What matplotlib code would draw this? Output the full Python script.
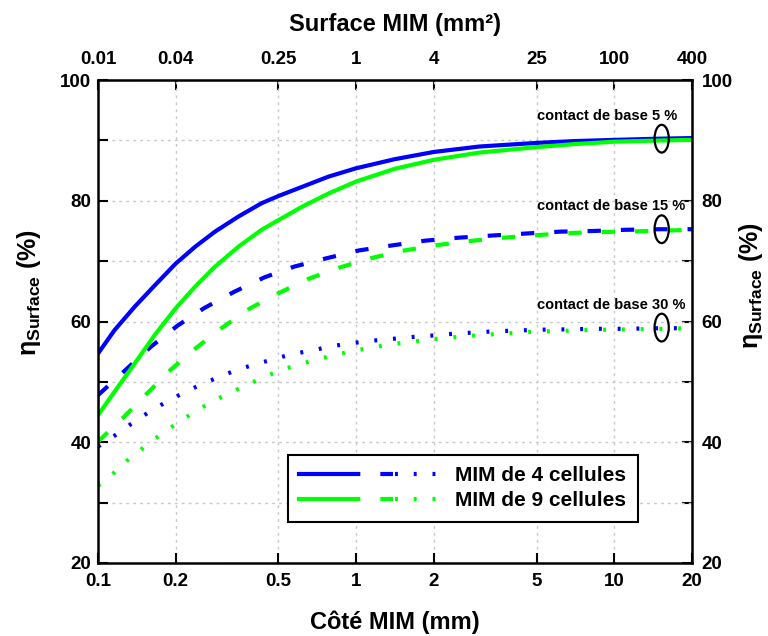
import matplotlib
matplotlib.use("Agg")
import matplotlib.pyplot as plt
import numpy as np
from matplotlib.patches import Ellipse
from matplotlib.legend_handler import HandlerTuple
from matplotlib.lines import Line2D
from matplotlib.ticker import NullLocator
import matplotlib.transforms as mtransforms

plt.rcParams['font.family'] = ['Liberation Sans', 'DejaVu Sans']
plt.rcParams['font.weight'] = 'bold'
plt.rcParams['axes.labelweight'] = 'bold'
plt.rcParams['mathtext.fontset'] = 'custom'
plt.rcParams['mathtext.rm'] = 'Liberation Sans:bold'
plt.rcParams['mathtext.bf'] = 'Liberation Sans:bold'
plt.rcParams['mathtext.it'] = 'Liberation Sans:bold'

# --- données (côté en mm, rendement en %) ---
x_4c_5 = [0.1, 0.116, 0.139, 0.166, 0.2, 0.238, 0.284, 0.35, 0.43, 0.5, 0.616, 0.78, 1.0, 1.41, 2.0, 3.0, 5.0, 7.0, 10.0, 15.0, 20.0]
eta_4c_5 = [54.7, 58.6, 62.5, 66.0, 69.6, 72.4, 74.9, 77.4, 79.6, 80.8, 82.3, 84.0, 85.4, 86.9, 88.1, 89.0, 89.6, 89.9, 90.1, 90.3, 90.4]

x_9c_5 = [0.1, 0.116, 0.139, 0.166, 0.2, 0.238, 0.284, 0.35, 0.43, 0.5, 0.616, 0.78, 1.0, 1.41, 2.0, 3.0, 5.0, 7.0, 10.0, 15.0, 20.0]
eta_9c_5 = [44.5, 48.4, 53.1, 57.8, 62.2, 65.8, 69.1, 72.4, 75.2, 76.8, 79.0, 81.2, 83.2, 85.3, 86.8, 88.0, 88.9, 89.4, 89.8, 90.0, 90.1]

x_4c_15 = [0.1, 0.128, 0.16, 0.203, 0.257, 0.336, 0.44, 0.575, 0.77, 1.03, 1.37, 1.85, 2.5, 3.5, 4.6, 6.2, 8.2, 11.0, 15.0, 20.0]
eta_4c_15 = [47.8, 52.0, 55.8, 59.3, 62.2, 64.9, 67.3, 69.1, 70.5, 71.8, 72.6, 73.4, 73.9, 74.3, 74.6, 74.9, 75.0, 75.2, 75.3, 75.3]

x_9c_15 = [0.1, 0.126, 0.155, 0.191, 0.241, 0.303, 0.385, 0.495, 0.647, 0.855, 1.14, 1.5, 2.0, 2.7, 3.5, 4.6, 6.2, 8.2, 11.0, 20.0]
eta_9c_15 = [40.1, 44.2, 48.1, 52.0, 55.7, 59.0, 62.1, 64.6, 67.0, 68.9, 70.5, 71.7, 72.6, 73.3, 73.8, 74.2, 74.6, 74.8, 74.9, 75.2]

x_4c_30 = [0.1, 0.116, 0.134, 0.155, 0.179, 0.206, 0.243, 0.286, 0.336, 0.397, 0.473, 0.563, 0.673, 0.8, 0.953,
           1.13, 1.36, 1.6, 2.0, 2.4, 2.9, 3.5, 4.1, 4.8, 5.7, 6.8, 8.0, 11.0, 15.5, 20.0]
eta_4c_30 = [39.3, 41.1, 43.0, 44.8, 46.4, 47.8, 49.3, 50.6, 51.8, 52.8, 53.7, 54.6, 55.2, 55.9, 56.4,
             56.8, 57.1, 57.4, 57.7, 58.0, 58.2, 58.4, 58.5, 58.6, 58.7, 58.7, 58.8, 58.8, 58.9, 58.9]

x_9c_30 = [0.1, 0.115, 0.13, 0.151, 0.174, 0.2, 0.232, 0.268, 0.31, 0.364, 0.43, 0.5, 0.59, 0.703, 0.836, 0.99,
           1.19, 1.4, 1.68, 2.0, 2.4, 2.9, 3.4, 4.1, 4.8, 5.7, 6.8, 8.0, 11.0, 15.5, 20.0]
eta_9c_30 = [32.8, 34.9, 37.0, 39.2, 41.2, 43.0, 44.8, 46.4, 47.8, 49.2, 50.6, 51.8, 52.8, 53.7, 54.5, 55.2,
             55.8, 56.3, 56.7, 57.1, 57.4, 57.7, 57.9, 58.1, 58.3, 58.4, 58.5, 58.6, 58.7, 58.8, 58.9]

bottom_ticks = [0.1, 0.2, 0.5, 1, 2, 5, 10, 20]
bottom_labels = ['0.1', '0.2', '0.5', '1', '2', '5', '10', '20']
top_ticks = [0.01, 0.04, 0.25, 1, 4, 25, 100, 400]
top_labels = ['0.01', '0.04', '0.25', '1', '4', '25', '100', '400']
y_ticks = [20, 30, 40, 50, 60, 70, 80, 90, 100]
y_labels = ['20', '', '40', '', '60', '', '80', '', '100']

contacts = ['contact de base 5 %', 'contact de base 15 %', 'contact de base 30 %']
contact_eta = [90.3, 75.3, 59.0]
legend_labels = ['MIM de 4 cellules', 'MIM de 9 cellules']

BLUE = '#0000ff'
GREEN = '#00ff00'
LW = 3.0
DASH = (0, (3.2, 4.8))
DOT = (0, (0.7, 3.8))
TICK_FS = 13.5

fig = plt.figure(figsize=(7.68, 6.36), dpi=100)
ax = fig.add_axes([0.1276, 0.1148, 0.901 - 0.1276, 0.874 - 0.1148])

ax.plot(x_4c_5, eta_4c_5, color=BLUE, lw=LW, solid_capstyle='butt')
ax.plot(x_4c_15, eta_4c_15, color=BLUE, lw=LW, linestyle=DASH)
ax.plot(x_4c_30, eta_4c_30, color=BLUE, lw=LW, linestyle=DOT)
ax.plot(x_9c_5, eta_9c_5, color=GREEN, lw=LW, solid_capstyle='butt')
ax.plot(x_9c_15, eta_9c_15, color=GREEN, lw=LW, linestyle=DASH)
ax.plot(x_9c_30, eta_9c_30, color=GREEN, lw=LW, linestyle=DOT)

ax.set_xscale('log')
ax.set_xlim(0.1, 20)
ax.set_ylim(20, 100)
ax.xaxis.set_minor_locator(NullLocator())
ax.set_xticks(bottom_ticks, labels=bottom_labels)
ax.set_yticks(y_ticks, labels=y_labels)
ax.grid(True, color='#c8c8c8', linestyle=(0, (2, 3)), linewidth=1.0)
ax.tick_params(axis='x', direction='in', length=7, width=1.5, labelsize=TICK_FS, pad=7)
ax.tick_params(axis='y', direction='in', length=7, width=1.5, labelsize=TICK_FS, pad=5)
for sp in ax.spines.values():
    sp.set_linewidth(1.8)

ax.set_xlabel('Côté MIM (mm)', fontsize=17, fontweight='bold', labelpad=15)
ylab = r'$\mathbf{η}_{\mathrm{Surface}}$ (%)'
ax.set_ylabel(ylab, fontsize=18, fontweight='bold')
ax.yaxis.set_label_coords(-0.093, 0.56)

# axe du haut : surface = côté²
top = ax.secondary_xaxis('top', functions=(lambda s: s ** 2, lambda a: np.sqrt(a)))
top.set_xscale('log')
top.xaxis.set_minor_locator(NullLocator())
top.set_xticks(top_ticks, labels=top_labels)
top.tick_params(direction='in', length=7, width=1.5, labelsize=TICK_FS, pad=9)
top.set_xlabel('Surface MIM (mm²)', fontsize=17, fontweight='bold', labelpad=14)

# axe de droite
right = ax.secondary_yaxis('right')
right.set_yticks(y_ticks, labels=y_labels)
right.tick_params(direction='in', length=7, width=1.5, labelsize=TICK_FS, pad=7)
right.set_ylabel(ylab, fontsize=18, fontweight='bold')
right.yaxis.set_label_coords(1.076, 0.575, transform=ax.transAxes)

# ellipses + annotations
blend = mtransforms.blended_transform_factory(ax.transAxes, ax.transData)
for txt, eta in zip(contacts, contact_eta):
    ax.add_patch(Ellipse((0.949, eta), 0.024, 4.6, transform=blend,
                         fill=False, edgecolor='black', lw=1.6, zorder=5))
    ax.text(0.739, eta + 3.8, txt, transform=blend, fontsize=10.5, fontweight='bold',
            ha='left', va='center')

# légende
h4 = (Line2D([], [], color=BLUE, lw=LW), Line2D([], [], color=BLUE, lw=LW, linestyle=DASH),
      Line2D([], [], color=BLUE, lw=LW, linestyle=DOT))
h9 = (Line2D([], [], color=GREEN, lw=LW), Line2D([], [], color=GREEN, lw=LW, linestyle=DASH),
      Line2D([], [], color=GREEN, lw=LW, linestyle=DOT))
leg = ax.legend([h4, h9], legend_labels, handler_map={tuple: HandlerTuple(ndivide=3, pad=0.1)},
                loc='lower right', bbox_to_anchor=(0.909, 0.085), fontsize=15,
                handlelength=6.8, handletextpad=0.7, borderpad=0.55, labelspacing=0.3,
                fancybox=False, framealpha=1, edgecolor='black', borderaxespad=0)
leg.get_frame().set_linewidth(1.5)

fig.savefig('out.png', dpi=100)
